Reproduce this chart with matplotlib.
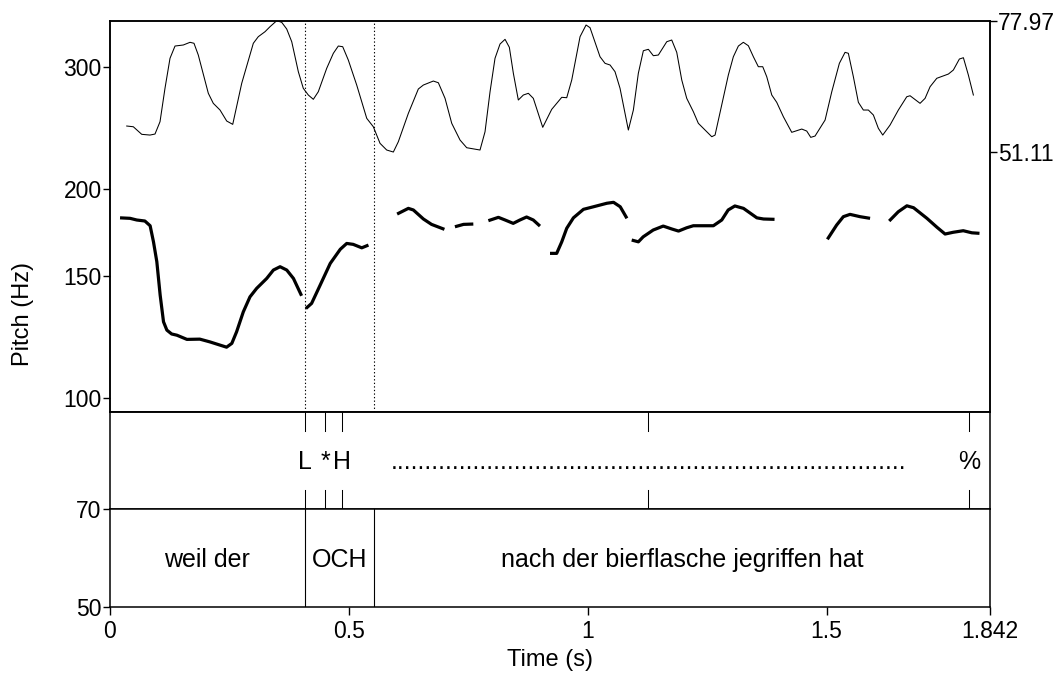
import numpy as np
import matplotlib
matplotlib.use("Agg")
import matplotlib.pyplot as plt
from matplotlib.ticker import FixedLocator, FixedFormatter, NullLocator

plt.rcParams["font.family"] = ["Liberation Sans", "DejaVu Sans"]

# ---- F0 contour (Hz), one list per voiced stretch ----
f0_time = [
    [0.021, 0.042, 0.056, 0.073, 0.084, 0.091, 0.098, 0.105, 0.112, 0.119, 0.129,
     0.140, 0.161, 0.188, 0.209, 0.244, 0.255, 0.265, 0.279, 0.293, 0.307, 0.328,
     0.342, 0.356, 0.370, 0.384, 0.401],
    [0.410, 0.422, 0.440, 0.461, 0.482, 0.4955, 0.509, 0.527, 0.541],
    [0.601, 0.6245, 0.635, 0.656, 0.673, 0.700],
    [0.722, 0.740, 0.7605],
    [0.792, 0.813, 0.827, 0.844, 0.858, 0.872, 0.886, 0.900],
    [0.921, 0.935, 0.9456, 0.956, 0.970, 0.991, 1.012, 1.040, 1.054, 1.068, 1.082],
    [1.092, 1.106, 1.116, 1.137, 1.158, 1.176, 1.190, 1.207, 1.221, 1.235, 1.263,
     1.2805, 1.294, 1.308, 1.326, 1.354, 1.368, 1.391],
    [1.5016, 1.521, 1.535, 1.549, 1.570, 1.591],
    [1.631, 1.650, 1.668, 1.682, 1.710, 1.731, 1.748, 1.765, 1.786, 1.804, 1.820],
]
f0_hz = [
    [181.8, 181.5, 180.5, 179.9, 177.1, 167.9, 157.2, 140.7, 128.8, 125.3, 123.7,
     123.2, 121.5, 121.6, 120.5, 118.4, 119.9, 124.6, 133.1, 139.9, 143.9, 148.7,
     152.9, 154.6, 152.9, 148.7, 140.4],
    [134.6, 136.9, 145.5, 156.3, 163.8, 167.0, 166.5, 164.6, 166.1],
    [184.1, 187.6, 186.6, 181.1, 177.9, 175.0],
    [176.5, 177.9, 178.1],
    [180.1, 182.1, 180.5, 178.5, 180.5, 182.3, 180.5, 176.9],
    [161.6, 161.6, 167.9, 175.6, 181.8, 187.0, 188.6, 190.8, 191.4, 188.6, 181.5],
    [168.9, 167.9, 170.7, 174.6, 176.9, 175.2, 174.0, 175.9, 177.1, 177.1, 177.1,
     180.5, 186.6, 189.1, 187.6, 181.8, 181.1, 180.9],
    [169.3, 177.5, 182.5, 183.9, 182.5, 181.5],
    [179.9, 185.5, 189.2, 188.0, 181.5, 176.2, 172.3, 173.3, 174.2, 173.0, 172.7],
]

# ---- Intensity contour (dB) ----
int_time = [
    0.035, 0.0488, 0.0664, 0.0837, 0.0942, 0.1047, 0.1151, 0.1256, 0.1361, 0.1534,
    0.1675, 0.1758, 0.1848, 0.2058, 0.2162, 0.2303, 0.2443, 0.2569, 0.2757, 0.3000,
    0.3104, 0.3245, 0.3349, 0.3490, 0.3594, 0.3699, 0.3804, 0.3942, 0.4046, 0.4151,
    0.4256, 0.4360, 0.4536, 0.4675, 0.4779, 0.4871, 0.4988, 0.5164, 0.5374, 0.5512,
    0.5652, 0.5792, 0.5931, 0.6035, 0.6245, 0.6454, 0.6559, 0.6768, 0.6873, 0.7013,
    0.7153, 0.7327, 0.7467, 0.7745, 0.7850, 0.7955, 0.8059, 0.8164, 0.8269, 0.8359,
    0.8443, 0.8547, 0.8652, 0.8757, 0.8861, 0.9058, 0.9246, 0.9456, 0.9560, 0.9665,
    0.9839, 0.9965, 1.0048, 1.0257, 1.0362, 1.0467, 1.0571, 1.0676, 1.0850, 1.0955,
    1.1059, 1.1164, 1.1269, 1.1373, 1.1478, 1.1654, 1.1758, 1.1863, 1.1968, 1.2072,
    1.2211, 1.2315, 1.2456, 1.2596, 1.2665, 1.2805, 1.2943, 1.3048, 1.3153, 1.3257,
    1.3362, 1.3467, 1.3571, 1.3663, 1.3747, 1.3852, 1.3956, 1.4095, 1.4270, 1.4480,
    1.4584, 1.4668, 1.4758, 1.4968, 1.5108, 1.5267, 1.5386, 1.5455, 1.5560, 1.5665,
    1.5769, 1.5874, 1.5979, 1.6083, 1.6175, 1.6328, 1.6502, 1.6678, 1.6747, 1.6956,
    1.7061, 1.7166, 1.7306, 1.7549, 1.7653, 1.7779, 1.7863, 1.7967, 1.8072,
]
int_db = [
    56.43, 56.28, 54.73, 54.58, 54.79, 57.31, 64.14, 70.28, 72.79, 73.00,
    73.55, 73.35, 70.95, 63.12, 61.07, 59.70, 57.45, 56.77, 65.16, 73.35,
    74.70, 75.72, 76.74, 77.97, 77.64, 76.27, 73.67, 67.54, 64.14, 62.77,
    61.89, 63.44, 68.23, 71.30, 72.79, 72.65, 69.93, 64.81, 58.00, 56.28,
    52.89, 51.52, 51.11, 53.21, 59.02, 64.00, 64.81, 65.63, 65.28, 62.09,
    56.98, 53.56, 51.99, 51.52, 55.26, 63.44, 70.28, 73.20, 74.16, 72.53,
    67.21, 61.75, 62.77, 63.12, 62.09, 56.16, 59.84, 62.30, 62.22, 65.84,
    74.70, 77.09, 76.54, 70.60, 69.25, 68.91, 67.54, 64.14, 55.61, 59.70,
    67.21, 71.83, 72.12, 70.81, 70.95, 73.67, 74.02, 71.50, 65.84, 62.09,
    59.35, 56.98, 55.61, 54.24, 54.58, 60.72, 66.86, 70.60, 72.79, 73.55,
    72.85, 70.60, 68.56, 68.56, 66.51, 62.77, 61.27, 58.33, 55.14, 55.81,
    55.40, 54.11, 54.38, 57.65, 63.44, 69.25, 71.50, 71.30, 66.51, 61.27,
    59.70, 59.70, 58.68, 55.96, 54.58, 56.63, 59.70, 62.42, 62.62, 61.07,
    62.09, 64.47, 66.19, 67.06, 67.88, 70.13, 70.40, 66.86, 62.77,
]

# ---- Annotation tiers ----
tone_times = [0.408, 0.4507, 0.4863, 1.127, 1.799]
tone_labels = ["L", "*", "H", "." * 75, "%"]
word_bounds = [0.0, 0.408, 0.553, 1.842]
word_labels = ["weil der", "OCH", "nach der bierflasche jegriffen hat"]
focus_marks = [0.408, 0.553]

t_end = 1.842
x_ticks = [0, 0.5, 1, 1.5, 1.842]
x_ticklabels = ["0", "0.5", "1", "1.5", "1.842"]
f0_ticks = [100, 150, 200, 300]
db_ticks = [51.11, 77.97]

W, H = 1061, 673
fig = plt.figure(figsize=(W / 100, H / 100), dpi=100)

def frac_box(x0, y_top, x1, y_bot):
    return [x0 / W, 1 - y_bot / H, (x1 - x0) / W, (y_bot - y_top) / H]

ax_p = fig.add_axes(frac_box(110, 20.7, 990, 411.7))
ax_t = fig.add_axes(frac_box(110, 411.7, 990, 509))
ax_w = fig.add_axes(frac_box(110, 509, 990, 607))

tick_fs = 16.5
tier_fs = 18
spine_lw = 1.1

for ax in (ax_p, ax_t, ax_w):
    ax.set_xlim(0, t_end)
    for s in ax.spines.values():
        s.set_linewidth(spine_lw)
    ax.tick_params(axis="both", which="both", direction="out", length=5,
                   width=1.0, labelsize=tick_fs, pad=1)
    ax.xaxis.set_major_locator(NullLocator())
    ax.xaxis.set_minor_locator(NullLocator())

# Pitch panel (log frequency)
ax_p.set_yscale("log")
ax_p.set_ylim(95.6, 349.5)
ax_p.yaxis.set_major_locator(FixedLocator(f0_ticks))
ax_p.yaxis.set_major_formatter(FixedFormatter([str(v) for v in f0_ticks]))
ax_p.yaxis.set_minor_locator(NullLocator())
for ts, hs in zip(f0_time, f0_hz):
    ax_p.plot(ts, hs, color="black", lw=2.3, solid_capstyle="butt",
              solid_joinstyle="round")
for xm in focus_marks:
    ax_p.axvline(xm, color="black", lw=0.8, linestyle=(0, (1.2, 2.0)))

# Intensity on the right-hand scale
ax_i = ax_p.twinx()
ax_i.set_ylim(-2.0, 77.97)
ax_i.plot(int_time, int_db, color="black", lw=0.75)
ax_i.yaxis.set_major_locator(FixedLocator(db_ticks))
ax_i.yaxis.set_major_formatter(FixedFormatter([f"{v:.2f}" for v in db_ticks]))
ax_i.tick_params(axis="y", direction="out", length=5, width=1.0,
                 labelsize=tick_fs, pad=1)
for s in ax_i.spines.values():
    s.set_linewidth(spine_lw)

# Tone tier (point tier)
ax_t.set_ylim(0, 1)
ax_t.yaxis.set_major_locator(FixedLocator([0]))
ax_t.yaxis.set_major_formatter(FixedFormatter(["70"]))
for tt, lab in zip(tone_times, tone_labels):
    ax_t.plot([tt, tt], [0.80, 1.0], color="black", lw=0.75)
    ax_t.plot([tt, tt], [0.0, 0.195], color="black", lw=0.75)
    ax_t.text(tt, 0.41, lab, ha="center", va="baseline", fontsize=tier_fs)

# Word tier (interval tier)
ax_w.set_ylim(0, 1)
ax_w.yaxis.set_major_locator(FixedLocator([0]))
ax_w.yaxis.set_major_formatter(FixedFormatter(["50"]))
for b in word_bounds[1:-1]:
    ax_w.plot([b, b], [0, 1], color="black", lw=0.8)
for a, b, lab in zip(word_bounds[:-1], word_bounds[1:], word_labels):
    ax_w.text((a + b) / 2, 0.41, lab, ha="center", va="baseline", fontsize=tier_fs)
ax_w.xaxis.set_major_locator(FixedLocator(x_ticks))
ax_w.xaxis.set_major_formatter(FixedFormatter(x_ticklabels))
ax_w.tick_params(axis="x", length=6, pad=3)

fig.text(22.5 / W, 1 - 314 / H, "Pitch (Hz)", rotation=90, ha="center",
         va="center", fontsize=17)
fig.text(550 / W, 1 - 660 / H, "Time (s)", ha="center", va="center", fontsize=17)

fig.savefig("out.png", dpi=100)
